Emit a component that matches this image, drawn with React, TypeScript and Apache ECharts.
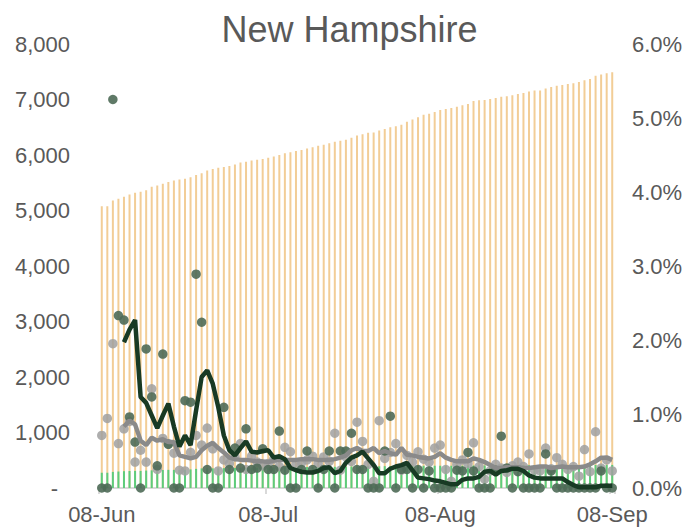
import React, { useEffect, useRef } from "react";
import * as echarts from "echarts";

// Day-by-day categories from 08-Jun to 08-Sep
const MONTHS = ["Jan","Feb","Mar","Apr","May","Jun","Jul","Aug","Sep","Oct","Nov","Dec"];
const categories: string[] = (() => {
  const out: string[] = [];
  const d = new Date(2020, 5, 8);
  const end = new Date(2020, 8, 8);
  while (d <= end) {
    out.push(String(d.getDate()).padStart(2, "0") + "-" + MONTHS[d.getMonth()]);
    d.setDate(d.getDate() + 1);
  }
  return out;
})();
const labelIndexes = [0, 30, 61, 92];

// Cumulative cases (left axis)
const cumulativeCases = [
  5075, 5075, 5180, 5210, 5250, 5290, 5320, 5340, 5365, 5430,
  5450, 5480, 5515, 5540, 5560, 5570, 5600, 5640, 5670, 5720,
  5750, 5770, 5785, 5800, 5830, 5865, 5880, 5900, 5915, 5930,
  5950, 5975, 6000, 6030, 6050, 6070, 6090, 6115, 6140, 6165,
  6185, 6210, 6240, 6255, 6275, 6310, 6350, 6375, 6400, 6405,
  6440, 6470, 6500, 6520, 6545, 6600, 6640, 6680, 6725, 6745,
  6775, 6810, 6830, 6845, 6870, 6895, 6920, 6975, 6985, 6990,
  7010, 7025, 7050, 7060, 7075, 7100, 7115, 7145, 7160, 7160,
  7200, 7225, 7250, 7260, 7280, 7295, 7315, 7345, 7370, 7430,
  7450, 7475, 7490,
];

// Cumulative deaths (left axis)
const cumulativeDeaths = [
  275, 275, 290, 297, 303, 306, 308, 308, 314, 318,
  319, 325, 327, 327, 327, 331, 335, 345, 353, 354,
  354, 354, 358, 359, 361, 362, 365, 366, 367, 369,
  370, 371, 374, 375, 375, 375, 376, 378, 379, 379,
  380, 382, 382, 384, 386, 389, 390, 391, 391, 391,
  391, 393, 397, 397, 398, 399, 399, 400, 400, 401,
  401, 401, 401, 401, 402, 403, 405, 406, 406, 406,
  406, 407, 410, 411, 411, 412, 412, 412, 412, 412,
  414, 415, 415, 415, 415, 415, 415, 415, 415, 415,
  416, 416, 416,
];

// Daily growth of deaths, % (right axis)
const deathGrowthPct = [
  0, 0, 5.25, 2.33, 2.27, 0.96, 0.62, 0, 1.88, 1.23,
  0.30, 1.81, 0.59, 0, 0, 1.18, 1.16, 2.89, 2.24, 0.25,
  0, 0, 1.09, 0.25, 0.54, 0.27, 0.80, 0.25, 0.27, 0.53,
  0.25, 0.25, 0.77, 0.24, 0, 0, 0.25, 0.50, 0.25, 0,
  0.25, 0.50, 0, 0.50, 0.50, 0.74, 0.25, 0.25, 0, 0,
  0, 0.50, 0.97, 0, 0.25, 0.25, 0, 0.25, 0, 0.23,
  0, 0, 0, 0, 0.24, 0.23, 0.48, 0.23, 0, 0,
  0, 0.24, 0.70, 0.27, 0, 0.22, 0, 0, 0, 0,
  0.46, 0.23, 0, 0, 0, 0, 0, 0, 0, 0,
  0.23, 0, 0,
];

// Daily growth of cases, % (right axis)
const caseGrowthPct = [
  0.71, 0.94, 1.95, 0.60, 0.80, 0.90, 0.35, 0.51, 0.35, 1.34,
  0.25, 0.67, 0.60, 0.47, 0.24, 0.23, 0.48, 0.71, 0.58, 0.81,
  0.53, 0.23, 0.38, 0.33, 0.42, 0.60, 0.25, 0.43, 0.35, 0.30,
  0.33, 0.39, 0.29, 0.55, 0.49, 0.32, 0.34, 0.38, 0.43, 0.33,
  0.42, 0.36, 0.74, 0.24, 0.42, 0.36, 0.89, 0.63, 0.32, 0.09,
  0.91, 0.40, 0.48, 0.60, 0.24, 0.44, 0.35, 0.49, 0.39, 0.35,
  0.54, 0.58, 0.25, 0.09, 0.32, 0.38, 0.33, 0.61, 0.29, 0.12,
  0.23, 0.32, 0.27, 0.21, 0.30, 0.35, 0.29, 0.46, 0.24, 0.23,
  0.54, 0.26, 0.41, 0.32, 0.25, 0.29, 0.16, 0.52, 0.22, 0.76,
  0.27, 0.38, 0.23,
];

// 7-day averages, % (right axis)
const deathGrowthAvg = [
  null, null, null, null, 1.97, 2.14, 2.27, 1.23, 1.15, 0.98,
  0.81, 0.98, 1.14, 0.83, 0.56, 0.71, 0.58, 1.05, 1.50, 1.59,
  1.41, 1.09, 0.71, 0.51, 0.44, 0.54, 0.63, 0.49, 0.48, 0.50,
  0.51, 0.41, 0.43, 0.39, 0.27, 0.24, 0.22, 0.21, 0.21, 0.23,
  0.27, 0.28, 0.20, 0.23, 0.34, 0.41, 0.44, 0.49, 0.40, 0.31,
  0.20, 0.20, 0.26, 0.29, 0.31, 0.34, 0.24, 0.14, 0.13, 0.12,
  0.10, 0.09, 0.07, 0.05, 0.05, 0.11, 0.13, 0.13, 0.15, 0.22,
  0.23, 0.18, 0.23, 0.24, 0.26, 0.26, 0.23, 0.17, 0.14, 0.13,
  0.13, 0.13, 0.13, 0.13, 0.08, 0.04, 0.01, 0.01, 0.01, 0.01,
  0.03, 0.03, 0.03,
];

const caseGrowthAvg = [
  null, null, null, null, 0.83, 0.91, 0.86, 0.64, 0.58, 0.68,
  0.64, 0.66, 0.62, 0.62, 0.44, 0.42, 0.40, 0.42, 0.51, 0.57,
  0.61, 0.54, 0.48, 0.41, 0.39, 0.38, 0.38, 0.37, 0.36, 0.36,
  0.35, 0.37, 0.38, 0.38, 0.38, 0.38, 0.39, 0.39, 0.39, 0.38,
  0.38, 0.38, 0.39, 0.41, 0.44, 0.51, 0.54, 0.50, 0.50, 0.54,
  0.47, 0.50, 0.47, 0.45, 0.54, 0.45, 0.44, 0.42, 0.41, 0.40,
  0.42, 0.47, 0.41, 0.38, 0.36, 0.36, 0.36, 0.40, 0.38, 0.35,
  0.31, 0.27, 0.27, 0.28, 0.28, 0.28, 0.27, 0.27, 0.28, 0.29,
  0.29, 0.27, 0.28, 0.29, 0.28, 0.28, 0.28, 0.29, 0.32, 0.36,
  0.41, 0.41, 0.38,
];

const leftTicks = [0, 1000, 2000, 3000, 4000, 5000, 6000, 7000, 8000];
const TEXT = "#595959";
const FONT = "'Liberation Sans', Arial, sans-serif";

export default function App() {
  const ref = useRef<HTMLDivElement>(null);
  useEffect(() => {
    if (!ref.current) return;
    const chart = echarts.init(ref.current, undefined, { renderer: "svg" });
    const showIdx = (i: number) => labelIndexes.indexOf(i) >= 0;
    chart.setOption({
      animation: false,
      backgroundColor: "#ffffff",
      textStyle: { fontFamily: FONT },
      title: {
        text: "New Hampshire",
        left: "center",
        top: 6,
        textStyle: { fontFamily: FONT, fontSize: 36, fontWeight: "normal", color: TEXT },
      },
      grid: { left: 99, right: 84, top: 44, bottom: 44 },
      xAxis: {
        type: "category",
        data: categories,
        boundaryGap: true,
        axisLine: { show: true, lineStyle: { color: "#D9D9D9", width: 2 } },
        axisTick: { show: true, interval: (i: number) => showIdx(i), length: 6, lineStyle: { color: "#D9D9D9", width: 2 } },
        axisLabel: {
          interval: (i: number) => showIdx(i),
          color: TEXT,
          fontSize: 22,
          fontFamily: FONT,
          margin: 15,
        },
      },
      yAxis: [
        {
          type: "value",
          min: leftTicks[0],
          max: leftTicks[leftTicks.length - 1],
          interval: 1000,
          splitLine: { show: false },
          axisLine: { show: false },
          axisTick: { show: false },
          axisLabel: {
            color: TEXT,
            fontSize: 22,
            fontFamily: FONT,
            margin: 29,
            formatter: (v: number) => (v === 0 ? "{d|-}" : v.toLocaleString("en-US")),
            rich: { d: { fontSize: 22, color: TEXT, fontFamily: FONT, padding: [0, 12, 0, 0] } },
          },
        },
        {
          type: "value",
          min: 0,
          max: 6,
          interval: 1,
          splitLine: { show: false },
          axisLine: { show: false },
          axisTick: { show: false },
          axisLabel: {
            color: TEXT,
            fontSize: 22,
            fontFamily: FONT,
            margin: 17,
            formatter: (v: number) => v.toFixed(1) + "%",
          },
        },
      ],
      series: [
        {
          name: "Cumulative cases",
          type: "bar",
          data: cumulativeCases,
          barWidth: 2,
          barGap: "-100%",
          itemStyle: { color: "#F2CD96" },
          z: 1,
        },
        {
          name: "Cumulative deaths",
          type: "bar",
          data: cumulativeDeaths,
          barWidth: 2,
          barGap: "-100%",
          itemStyle: { color: "#5DCC7C" },
          z: 2,
        },
        {
          name: "Case growth",
          type: "scatter",
          yAxisIndex: 1,
          data: caseGrowthPct,
          symbolSize: 9.5,
          itemStyle: { color: "#A0A0A0", opacity: 0.85 },
          z: 3,
        },
        {
          name: "Death growth",
          type: "scatter",
          yAxisIndex: 1,
          data: deathGrowthPct,
          symbolSize: 9.5,
          itemStyle: { color: "#4E6A56", opacity: 0.9 },
          z: 4,
        },
        {
          name: "Case growth avg",
          type: "line",
          yAxisIndex: 1,
          data: caseGrowthAvg,
          showSymbol: false,
          symbol: "none",
          lineStyle: { color: "#8A8A8A", width: 4.5 },
          z: 5,
        },
        {
          name: "Death growth avg",
          type: "line",
          yAxisIndex: 1,
          data: deathGrowthAvg,
          showSymbol: false,
          symbol: "none",
          lineStyle: { color: "#183A24", width: 4.5 },
          z: 6,
        },
      ],
    });
    return () => chart.dispose();
  }, []);
  return <div ref={ref} style={{ width: 699, height: 532, position: "absolute", left: 0, top: 0 }} />;
}
